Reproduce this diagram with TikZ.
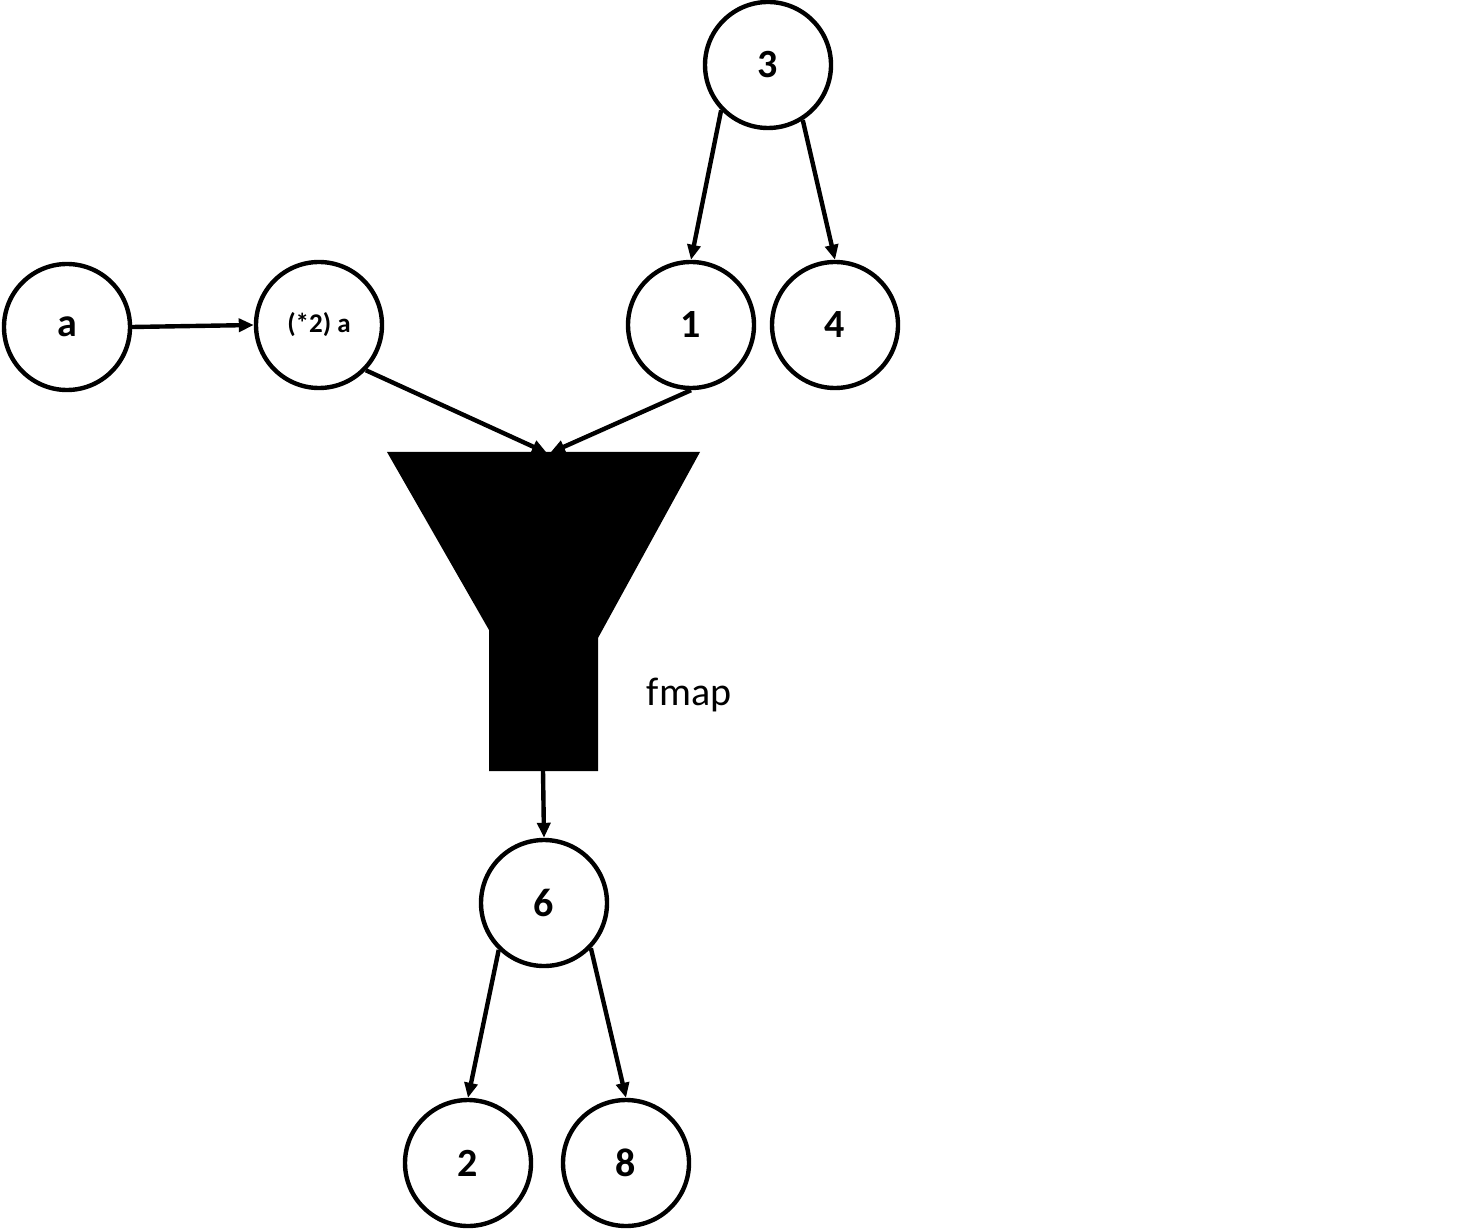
\documentclass[tikz,border=0pt]{standalone}
\usepackage{fontspec}
\setmainfont{Carlito}
\usetikzlibrary{arrows.meta}
\begin{document}
\begin{tikzpicture}[x=0.5pt,y=-0.5pt,
  every node/.style={inner sep=0pt},
  valnode/.style={circle,draw,line width=2.2pt,minimum size=63pt,font=\fontsize{20}{24}\selectfont\bfseries},
  smallval/.style={valnode,font=\fontsize{13.5}{16}\selectfont\bfseries},
  conn/.style={line width=2.2pt,-{Triangle[length=7.5pt,width=6.5pt]}},
  lbl/.style={font=\fontsize{20}{24}\selectfont}]
\useasboundingbox (0,0) rectangle (1481,1229);
\node[valnode] (n3) at (768,65) {3};
\node[valnode] (a) at (67,327) {a};
\node[smallval] (s2) at (319,325) {(*2) a};
\node[valnode] (n1) at (691,325) {1};
\node[valnode] (n4) at (835,325) {4};
\node[valnode] (n6) at (544,903) {6};
\node[valnode] (n2) at (468,1163) {2};
\node[valnode] (n8) at (626,1163) {8};
\fill (387,452) -- (700,452) -- (598,638) -- (598,771) -- (489,771) -- (489,630) -- cycle;
\coordinate (ftopL) at (547,453);
\coordinate (ftopR) at (550,453);
\coordinate (fbot) at (543,771);
\node[lbl] (fmap) at (689,695) {fmap};
\draw[conn] (a.east) -- (s2.west);
\draw[conn] (s2.-44) -- (ftopL);
\draw[conn] (n1.south) -- (ftopR);
\draw[conn] (n3.-136) -- (n1.north);
\draw[conn] ([shift={(-4pt,-3pt)}]n3.-49) -- (n4.north);
\draw[conn] (fbot) -- (n6.north);
\draw[conn] (n6.-134) -- (n2.north);
\draw[conn] (n6.-44) -- (n8.north);
\end{tikzpicture}
\end{document}
